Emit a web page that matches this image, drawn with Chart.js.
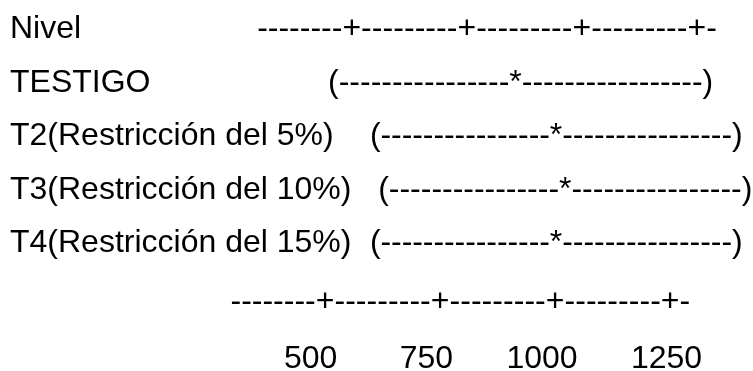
<!DOCTYPE html>
<html>
<head>
<meta charset="utf-8">
<title>Intervalos de confianza por nivel</title>
<script src="https://cdn.jsdelivr.net/npm/chart.js@4.4.1/dist/chart.umd.min.js"></script>
<style>
  html, body { margin: 0; padding: 0; background: #ffffff; }
  #wrap { width: 753px; height: 371px; }
</style>
</head>
<body>
<div id="wrap"><canvas id="chart" width="753" height="371"></canvas></div>
<script>
// Niveles del factor y sus intervalos de confianza (IC individuales del 95%)
const headerLabel = 'Nivel';
const levels = ['TESTIGO', 'T2(Restricción del 5%)', 'T3(Restricción del 10%)', 'T4(Restricción del 15%)'];
const lowerBounds = [518, 609, 627, 609];
const means = [914, 1002, 1022, 1002];
const upperBounds = [1332, 1396, 1417, 1396];
const axisTicks = [500, 750, 1000, 1250];

// Layout of the text-style report
const FONT = '32px "Liberation Sans", Arial, sans-serif';
const LABEL_X = 10;
const HEADER_ROW = 0;     // "Nivel" row
const AXIS_ROW = 5.09;    // bottom axis rule
const TICK_ROW = 6.16;    // numbers under the rule

const textReport = {
  id: 'textReport',
  afterDraw(chart) {
    const ctx = chart.ctx;
    const xs = chart.scales.x;
    const ys = chart.scales.y;
    ctx.save();
    ctx.font = FONT;
    ctx.fillStyle = '#000000';
    ctx.textBaseline = 'alphabetic';

    const dashW = ctx.measureText('-').width;
    const plusW = ctx.measureText('+').width;

    // Row labels
    ctx.textAlign = 'left';
    ctx.fillText(headerLabel, LABEL_X, ys.getPixelForValue(HEADER_ROW));
    levels.forEach((name, i) => ctx.fillText(name, LABEL_X, ys.getPixelForValue(i + 1)));

    // "--------+---------+---------+---------+-" rule built on the x scale ticks
    function drawRule(y, dx) {
      ctx.textAlign = 'center';
      const px = axisTicks.map(t => xs.getPixelForValue(t) + dx);
      px.forEach(p => ctx.fillText('+', p, y));
      for (let k = 0; k < 8; k++) {
        ctx.fillText('-', px[0] - plusW / 2 - dashW * (k + 0.5), y);
      }
      for (let j = 0; j < px.length - 1; j++) {
        const step = (px[j + 1] - px[j] - plusW) / 9;
        for (let k = 0; k < 9; k++) {
          ctx.fillText('-', px[j] + plusW / 2 + step * (k + 0.5), y);
        }
      }
      ctx.fillText('-', px[px.length - 1] + plusW / 2 + dashW / 2, y);
    }
    // header rule sits three columns further right than the bottom rule
    drawRule(ys.getPixelForValue(HEADER_ROW), ctx.measureText('   ').width);
    drawRule(ys.getPixelForValue(AXIS_ROW), 0);

    // Tick numbers laid out in 10-character columns
    const tickLine = axisTicks.map((t, i) => i === 0 ? String(t) : String(t).padStart(10, ' ')).join('');
    const first = String(axisTicks[0]);
    const startX = xs.getPixelForValue(axisTicks[0]) + plusW / 2 + 3 - ctx.measureText(first).width;
    ctx.textAlign = 'left';
    ctx.fillText(tickLine, startX, ys.getPixelForValue(TICK_ROW));

    // Intervals: (-----*-----)
    ctx.textAlign = 'center';
    function dashes(a, b, y) {
      const len = b - a;
      const n = Math.max(1, Math.round(len / dashW));
      const step = len / n;
      for (let k = 0; k < n; k++) ctx.fillText('-', a + step * (k + 0.5), y);
    }
    const parenW = ctx.measureText('(').width;
    const starW = ctx.measureText('*').width;
    levels.forEach((_, i) => {
      const y = ys.getPixelForValue(i + 1);
      const xl = xs.getPixelForValue(lowerBounds[i]);
      const xm = xs.getPixelForValue(means[i]);
      const xu = xs.getPixelForValue(upperBounds[i]);
      ctx.fillText('(', xl, y);
      ctx.fillText('*', xm, y);
      ctx.fillText(')', xu, y);
      dashes(xl + parenW / 2, xm - starW / 2, y);
      dashes(xm + starW / 2, xu - parenW / 2, y);
    });
    ctx.restore();
  }
};

new Chart(document.getElementById('chart'), {
  type: 'scatter',
  data: {
    datasets: [{
      label: 'Media',
      data: means.map((m, i) => ({ x: m, y: i + 1 })),
      pointRadius: 0,
      pointHoverRadius: 0
    }]
  },
  options: {
    responsive: false,
    animation: false,
    devicePixelRatio: 1,
    layout: { padding: { left: 95, right: 0, top: 0, bottom: 0 } },
    plugins: { legend: { display: false }, tooltip: { enabled: false } },
    scales: {
      x: { type: 'linear', display: false, min: 0, max: 1430 },
      y: { type: 'linear', display: false, reverse: true, min: -0.7196, max: 6.215 }
    }
  },
  plugins: [textReport]
});
</script>
</body>
</html>
